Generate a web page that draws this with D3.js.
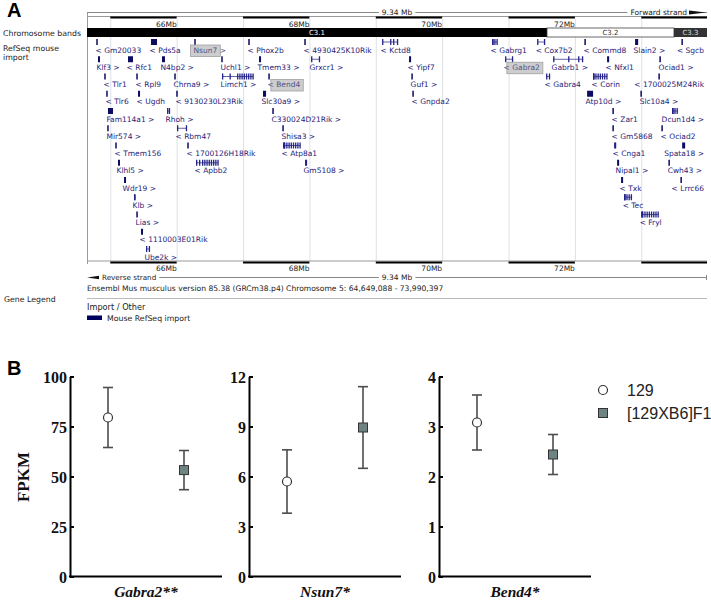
<!DOCTYPE html>
<html><head><meta charset="utf-8">
<script src="https://cdn.jsdelivr.net/npm/d3@7"></script>
<style>
body{margin:0;background:#fff}
svg{display:block}
</style></head><body>
<svg id="c" width="711" height="600"></svg>
<script>
// ================= Panel A data =================
const chromosome = "5";
const regionStart = 64.649088, regionEnd = 73.990397; // Mb
const mbLabels = [66, 68, 70, 72];
const bandNames = ["C3.1", "C3.2", "C3.3"];
const bandStarts = [64.649088, 71.580, 73.493];
const bandEnds = [71.580, 73.493, 73.990397];
const bandStains = ["gpos100", "gneg", "gpos75"];
const highlighted = ["Nsun7", "Gabra2", "Bend4"];
// [name, strand, row, start(Mb), end(Mb), glyph kind]
const genes = [
  ["Gm20033",-1,0,64.800,64.800,"t"],["Pds5a",-1,0,65.613,65.704,"s"],["Nsun7",1,0,66.276,66.276,"t"],
  ["Phox2b",-1,0,67.090,67.090,"t"],["4930425K10Rik",-1,0,67.934,67.934,"t"],["Kctd8",-1,0,69.095,69.336,"e"],
  ["Gabrg1",-1,0,70.752,70.828,"d"],["Cox7b2",-1,0,71.431,71.551,"e"],["Commd8",-1,0,72.154,72.154,"t"],
  ["Slain2",1,0,72.907,72.953,"s"],["Sgcb",-1,0,73.616,73.616,"t"],
  ["Klf3",1,1,64.815,64.830,"s"],["Rfc1",-1,1,65.267,65.342,"s"],["N4bp2",1,1,65.779,65.824,"s"],
  ["Uchl1",1,1,66.683,66.683,"t"],["Tmem33",1,1,67.241,67.271,"s"],["Grxcr1",1,1,68.025,68.160,"e"],
  ["Yipf7",-1,1,69.501,69.532,"s"],["Gabra2",-1,1,70.948,71.069,"e"],["Gabrb1",1,1,71.672,72.124,"e"],
  ["Nfxl1",-1,1,72.485,72.516,"s"],["Ociad1",1,1,73.284,73.284,"t"],
  ["Tlr1",-1,2,64.920,64.920,"t"],["Rpl9",-1,2,65.403,65.403,"t"],["Chrna9",1,2,65.975,65.975,"t"],
  ["Limch1",1,2,66.683,67.151,"d"],["Bend4",-1,2,67.392,67.392,"t"],["Guf1",1,2,69.547,69.547,"t"],
  ["Gabra4",-1,2,71.566,71.626,"e"],["Corin",-1,2,72.274,72.485,"d"],["1700025M24Rik",-1,2,73.269,73.269,"t"],
  ["Tlr6",-1,3,64.950,64.950,"t"],["Ugdh",-1,3,65.418,65.433,"s"],["9130230L23Rik",-1,3,66.005,66.005,"t"],
  ["Slc30a9",1,3,67.301,67.347,"s"],["Gnpda2",-1,3,69.562,69.572,"t"],["Atp10d",1,3,72.184,72.274,"s"],
  ["Slc10a4",1,3,72.998,72.998,"t"],
  ["Fam114a1",1,4,64.965,65.041,"s"],["Rhoh",1,4,65.855,65.900,"e"],["C330024D21Rik",1,4,67.452,67.452,"t"],
  ["Zar1",-1,4,72.576,72.576,"t"],["Dcun1d4",1,4,73.465,73.555,"d"],
  ["Mir574",1,5,64.965,64.965,"t"],["Rbm47",-1,5,66.005,66.156,"e"],["Shisa3",1,5,67.603,67.603,"t"],
  ["Gm5868",-1,5,72.576,72.576,"t"],["Ociad2",-1,5,73.314,73.314,"t"],
  ["Tmem156",-1,6,65.086,65.086,"t"],["1700126H18Rik",-1,6,66.171,66.171,"t"],["Atp8a1",-1,6,67.603,67.859,"d"],
  ["Cnga1",-1,6,72.591,72.621,"e"],["Spata18",1,6,73.616,73.661,"s"],
  ["Klhl5",1,7,65.116,65.146,"s"],["Apbb2",-1,7,66.292,66.623,"d"],["Gm5108",1,7,67.934,67.964,"e"],
  ["Nipal1",1,7,72.636,72.651,"s"],["Cwh43",1,7,73.420,73.420,"t"],
  ["Wdr19",1,8,65.207,65.237,"s"],["Txk",-1,8,72.696,72.726,"s"],["Lrrc66",-1,8,73.601,73.601,"t"],
  ["Klb",1,9,65.357,65.372,"e"],["Tec",-1,9,72.742,72.862,"d"],
  ["Lias",1,10,65.403,65.403,"t"],["Fryl",-1,10,72.998,73.254,"d"],
  ["1110003E01Rik",-1,11,65.463,65.473,"s"],
  ["Ube2k",1,12,65.538,65.598,"e"]
];

// ================= Panel B data =================
const genesB = ["Gabra2**", "Nsun7*", "Bend4*"];
const strains = ["129", "[129XB6]F1"];
const mean129 = [79.5, 5.7, 3.08];
const err129 = [15.0, 1.9, 0.55];
const meanF1 = [53.2, 8.94, 2.44];
const errF1 = [9.8, 2.45, 0.40];
const yMax = [100, 12, 4];
const yTicks = [[0, 25, 50, 75, 100], [0, 3, 6, 9, 12], [0, 1, 2, 3, 4]];

// ================= drawing =================
const svg = d3.select("#c");
const sans = "'DejaVu Sans', sans-serif";
const arial = "'Liberation Sans', Arial, sans-serif";
const serif = "'Liberation Serif', 'Times New Roman', serif";
const L = 87, R = 707;
const xA = d3.scaleLinear().domain([regionStart, regionEnd]).range([L, R]);
const gA = svg.append("g");

function txt(g, x, y, s, size, opt = {}) {
  return g.append("text").attr("x", x).attr("y", y).attr("dy", "0.35em")
    .attr("font-family", opt.family || sans).attr("font-size", size)
    .attr("font-weight", opt.weight || "normal").attr("font-style", opt.style || "normal")
    .attr("fill", opt.fill || "#222").attr("text-anchor", opt.anchor || "start").text(s);
}
function bgText(g, x, y, s, size, anchor) {
  const t = txt(g, x, y, s, size, {anchor});
  const b = t.node().getBBox();
  g.insert("rect", () => t.node()).attr("x", b.x - 3).attr("y", b.y).attr("width", b.width + 6)
    .attr("height", b.height).attr("fill", "#fff");
  return t;
}

// panel letter & left labels
txt(svg, 7, 10, "A", 20, {family: arial, weight: "bold", fill: "#000"});
txt(gA, 3, 33, "Chromosome bands", 7.8);
txt(gA, 3, 48.5, "RefSeq mouse", 7.8);
txt(gA, 3, 57.5, "import", 7.8);

// grid lines
gA.selectAll("line.grid").data(d3.range(Math.ceil(regionStart), Math.floor(regionEnd) + 1))
  .join("line").attr("class", "grid")
  .attr("x1", d => xA(d) + 0.5).attr("x2", d => xA(d) + 0.5).attr("y1", 19).attr("y2", 261)
  .attr("stroke", "#dde1e6").attr("stroke-width", 1);

// left border
gA.append("line").attr("x1", L + 0.5).attr("x2", L + 0.5).attr("y1", 12).attr("y2", 264)
  .attr("stroke", "#999");

const spanLabel = (regionEnd - regionStart).toFixed(2) + " Mb";
// top ruler
gA.append("line").attr("x1", L).attr("x2", R).attr("y1", 12.5).attr("y2", 12.5).attr("stroke", "#888");
bgText(gA, (L + R) / 2, 12.5, spanLabel, 7.5, "middle");
bgText(gA, 687, 12.5, "Forward strand", 7.5, "end");
gA.append("polygon").attr("points", "689,10.5 706,12.5 689,14.5").attr("fill", "#111");

// Mb segments
const segs = d3.range(Math.floor(regionStart), Math.ceil(regionEnd)).map(m => ({
  m, a: Math.max(m, regionStart), b: Math.min(m + 1, regionEnd)}));
function scaleBar(yLine, yBar, yLab) {
  gA.append("line").attr("x1", L).attr("x2", R).attr("y1", yLine).attr("y2", yLine).attr("stroke", "#999");
  gA.selectAll(null).data(segs.filter(s => s.m % 2 === 1)).join("rect")
    .attr("x", s => xA(s.a)).attr("width", s => xA(s.b) - xA(s.a)).attr("y", yBar).attr("height", 2)
    .attr("fill", "#000");
  mbLabels.forEach(m => txt(gA, xA(m), yLab, m + "Mb", 7.5, {anchor: "end"}));
}
scaleBar(16.5, 16.5, 24);
scaleBar(261, 261.5, 268.5);

// chromosome bands
const stainFill = {gpos100: "#000", gneg: "#fff", gpos75: "#333"};
const stainText = {gpos100: "#fff", gneg: "#333", gpos75: "#ddd"};
bandNames.forEach((n, i) => {
  gA.append("rect").attr("x", xA(bandStarts[i])).attr("width", xA(bandEnds[i]) - xA(bandStarts[i]))
    .attr("y", 28).attr("height", 9).attr("fill", stainFill[bandStains[i]])
    .attr("stroke", bandStains[i] === "gneg" ? "#444" : "none").attr("stroke-width", 0.8);
  txt(gA, (xA(bandStarts[i]) + xA(bandEnds[i])) / 2, 32.7, n, 7, {anchor: "middle", fill: stainText[bandStains[i]]});
});

// genes
const rowY = r => 50 + r * 17.25;
const glyphCol = "#0c0c62", tickCol = "#22228a", labCol = "#1f2378";
genes.forEach(([name, strand, row, s, e, kind]) => {
  const x0 = xA(s), x1 = Math.max(xA(e), x0 + 1.5), yc = rowY(row), y0 = yc - 11;
  if (kind === "t") {
    gA.append("rect").attr("x", x0 - 0.75).attr("y", y0).attr("width", 1.5).attr("height", 6).attr("fill", glyphCol);
  } else if (kind === "s") {
    gA.append("rect").attr("x", x0).attr("y", y0).attr("width", Math.max(x1 - x0, 2)).attr("height", 6).attr("fill", glyphCol);
  } else {
    gA.append("line").attr("x1", x0).attr("x2", x1).attr("y1", y0 + 3).attr("y2", y0 + 3)
      .attr("stroke", "#3a3a90").attr("stroke-width", 0.8);
    let ticks;
    if (kind === "e") ticks = [x0, x1 - 1.2].concat((x1 - x0) > 12 ? [(x0 + x1) / 2, x1 - 5] : []);
    else {
      const w = x1 - x0, dStart = x0 + Math.max(0, w - 16);
      ticks = [x0, x0 + (dStart - x0) / 2].concat(d3.range(dStart, x1 - 0.5, 2.2));
    }
    ticks.forEach(t => gA.append("rect").attr("x", t).attr("y", y0).attr("width", 1.3).attr("height", 6).attr("fill", tickCol));
  }
  const label = strand < 0 ? "< " + name : name + " >";
  const t = txt(gA, 0, yc, label, 7.5, {fill: labCol});
  const w = t.node().getComputedTextLength();
  const x = Math.min(x0 - 1.5, 704 - w);
  t.attr("x", x);
  if (highlighted.includes(name)) {
    const tmp = txt(gA, 0, -50, strand < 0 ? "< " : name, 7.5);
    const pw = tmp.node().getComputedTextLength(); tmp.remove();
    const bx0 = strand < 0 ? x + pw - 3 : x - 3;
    const bx1 = strand < 0 ? x + w + 3 : x + pw + 3;
    gA.insert("rect", () => t.node()).attr("x", bx0).attr("y", yc - 5).attr("width", bx1 - bx0).attr("height", 11.5)
      .attr("fill", "#cdcdcd").attr("stroke", "#a0a0a0").attr("stroke-width", 0.8);
    t.attr("fill", "#50548a");
  }
});

// bottom: reverse strand row
gA.append("polygon").attr("points", "87,277.5 101,275.5 101,279.5").attr("fill", "#111");
gA.append("line").attr("x1", 101).attr("x2", R).attr("y1", 277.5).attr("y2", 277.5).attr("stroke", "#888");
gA.append("line").attr("x1", R - 0.5).attr("x2", R - 0.5).attr("y1", 275).attr("y2", 280).attr("stroke", "#888");
bgText(gA, 102, 277.5, "Reverse strand", 7.2, "start");
bgText(gA, (L + R) / 2, 277.5, spanLabel, 7.5, "middle");
const fmt = d3.format(",");
txt(gA, L, 288.5, `Ensembl Mus musculus version 85.38 (GRCm38.p4) Chromosome ${chromosome}: ${fmt(Math.round(regionStart * 1e6))} - ${fmt(Math.round(regionEnd * 1e6))}`, 7.6);
gA.append("line").attr("x1", L).attr("x2", R).attr("y1", 298.5).attr("y2", 298.5).attr("stroke", "#bbb");
txt(gA, 4, 299, "Gene Legend", 7.8);
txt(gA, L, 307.5, "Import / Other", 8.2);
gA.append("rect").attr("x", L).attr("y", 315.5).attr("width", 15).attr("height", 4.5).attr("fill", "#00005e");
txt(gA, 107, 318, "Mouse RefSeq import", 7.8);

// ================= Panel B =================
txt(svg, 7, 368, "B", 20, {family: arial, weight: "bold", fill: "#000"});
const gB = svg.append("g");
const chartX = [70, 249, 439], chartW = 152, yBot = 576.5, yTop = 376.5;
gB.append("text").attr("transform", "translate(23,477) rotate(-90)").attr("text-anchor", "middle")
  .attr("dy", "0.35em").attr("font-family", serif).attr("font-weight", "bold").attr("font-size", 17)
  .attr("fill", "#111").text("FPKM");

genesB.forEach((gname, i) => {
  const x0 = chartX[i];
  const y = d3.scaleLinear().domain([0, yMax[i]]).range([yBot, yTop]);
  const x = d3.scalePoint().domain(strains).range([x0, x0 + chartW]).padding(0.5);
  const ax = gB.append("g").attr("transform", `translate(${x0},0)`)
    .call(d3.axisLeft(y).tickValues(yTicks[i]).tickSizeInner(-4).tickSizeOuter(0).tickPadding(3).tickFormat(d3.format("d")));
  ax.select(".domain").attr("stroke", "#000").attr("stroke-width", 2);
  ax.selectAll(".tick line").attr("stroke", "#000").attr("stroke-width", 2);
  ax.selectAll(".tick text").attr("font-family", serif).attr("font-weight", "bold").attr("font-size", 16)
    .attr("fill", "#111").attr("dy", "0.36em");
  gB.append("line").attr("x1", x0 - 1).attr("x2", x0 + chartW).attr("y1", yBot).attr("y2", yBot)
    .attr("stroke", "#000").attr("stroke-width", 2);
  const pts = [
    {s: strains[0], m: mean129[i], e: err129[i]},
    {s: strains[1], m: meanF1[i], e: errF1[i]}
  ];
  pts.forEach((p, j) => {
    const px = x(p.s);
    gB.append("line").attr("x1", px).attr("x2", px).attr("y1", y(p.m - p.e)).attr("y2", y(p.m + p.e))
      .attr("stroke", "#4d4d4d").attr("stroke-width", 1.6);
    [p.m - p.e, p.m + p.e].forEach(v => gB.append("line").attr("x1", px - 5).attr("x2", px + 5)
      .attr("y1", y(v)).attr("y2", y(v)).attr("stroke", "#4d4d4d").attr("stroke-width", 1.6));
    if (j === 0) gB.append("circle").attr("cx", px).attr("cy", y(p.m)).attr("r", 4.5)
      .attr("fill", "#fff").attr("stroke", "#333").attr("stroke-width", 1.2);
    else gB.append("rect").attr("x", px - 4.5).attr("y", y(p.m) - 4.5).attr("width", 9).attr("height", 9)
      .attr("fill", "#6f8383").attr("stroke", "#333").attr("stroke-width", 1);
  });
  gB.append("text").attr("x", x0 + chartW / 2).attr("y", 597).attr("text-anchor", "middle")
    .attr("font-family", serif).attr("font-weight", "bold").attr("font-style", "italic").attr("font-size", 15.5)
    .attr("fill", "#111").text(gname);
});

// legend
const lg = svg.append("g");
lg.append("circle").attr("cx", 603).attr("cy", 390).attr("r", 4.5).attr("fill", "#fff").attr("stroke", "#333").attr("stroke-width", 1.2);
lg.append("rect").attr("x", 598.5).attr("y", 408.5).attr("width", 9).attr("height", 9).attr("fill", "#6f8383").attr("stroke", "#333");
txt(lg, 627, 390, strains[0], 16, {family: arial, fill: "#222"});
txt(lg, 627, 413, strains[1], 16, {family: arial, fill: "#222"});
</script>
</body></html>
